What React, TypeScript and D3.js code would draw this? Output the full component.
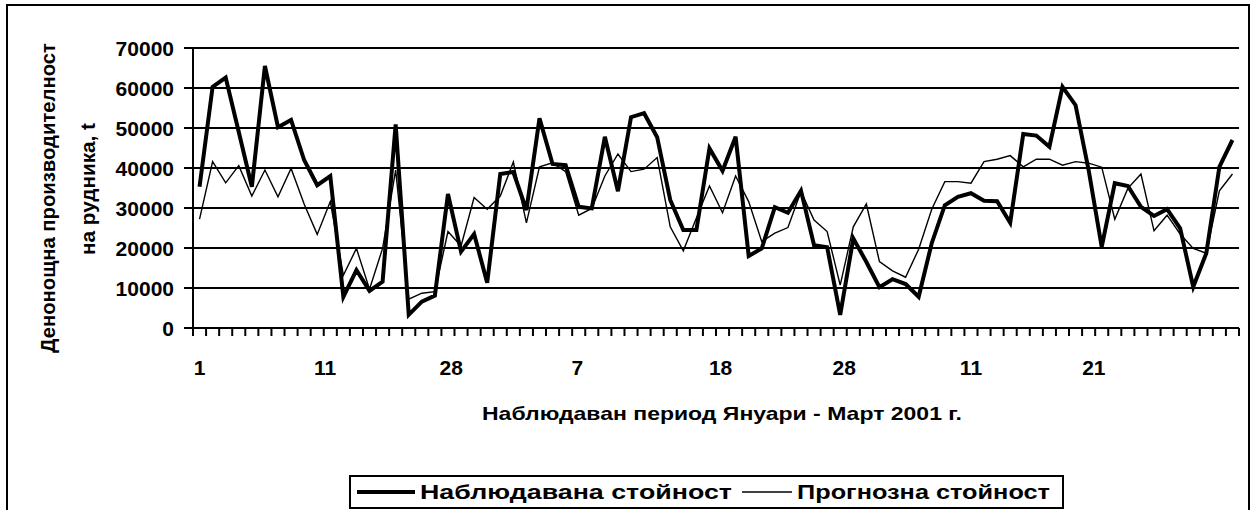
import React from 'react';
import * as d3 from 'd3';

const observed = [
  35300, 60300, 62600, 49000, 35300, 65500, 50200, 52000, 42000, 35700,
  38000, 7800, 14500, 9300, 11600, 50900, 3300, 6600, 8100, 33500,
  19100, 23500, 11300, 38500, 39000, 29500, 52400, 41000, 40700, 30300,
  29900, 47800, 34200, 52700, 53700, 47700, 32000, 24500, 24500, 44900,
  39300, 47800, 18000, 19900, 30200, 28800, 34300, 20700, 20200, 3300,
  22400, 16500, 10200, 12200, 11000, 7800, 21200, 30700, 32800, 33700,
  31800, 31700, 26300, 48500, 48100, 45300, 60300, 55700, 39500, 20300,
  36200, 35500, 30300, 28000, 29700, 24900, 10300, 18700, 40300, 47000,
];

const forecast = [
  27200, 41600, 36300, 40600, 33000, 39500, 32800, 39900, 31000, 23400,
  31600, 13200, 19900, 9700, 19900, 39500, 7200, 8700, 9100, 24100,
  20500, 32600, 29700, 33000, 41500, 26300, 40300, 41300, 39100, 28200,
  29900, 38000, 43500, 39100, 39700, 42600, 25300, 19300, 27500, 35500,
  28800, 38000, 31600, 21600, 23700, 25100, 34100, 27000, 24100, 10700,
  25300, 31000, 16600, 14300, 12700, 19700, 29700, 36600, 36600, 36200,
  41600, 42200, 43100, 40300, 42200, 42200, 40700, 41600, 41200, 40200,
  27200, 34900, 38500, 24300, 28200, 23500, 19900, 18700, 34300, 38500,
];

const xTickLabels = ['1', '11', '28', '7', '18', '28', '11', '21'];
const xTickIndex = [0, 9.6, 19.25, 28.9, 39.85, 49.3, 59, 68.4];
const yTicks = [0, 10000, 20000, 30000, 40000, 50000, 60000, 70000];

const yTitle1 = 'Денонощна производителност';
const yTitle2 = 'на рудника, t';
const xTitle = 'Наблюдаван период Януари - Март 2001 г.';
const legendLabels = ['Наблюдавана стойност', 'Прогнозна стойност'];

const FONT = '"Liberation Sans", Arial, sans-serif';

export default function App() {
  const W = 1257;
  const H = 510;
  const left = 193;
  const right = 1239;
  const top = 48;
  const bottom = 328;
  const N = observed.length;

  const x = d3.scaleLinear().domain([0, N]).range([left, right]);
  const y = d3.scaleLinear().domain([0, 70000]).range([bottom, top]);

  const line = d3
    .line<number>()
    .x((_, i) => x(i + 0.5))
    .y((d) => y(d));

  const boundaries = d3.range(0, N + 1);

  return (
    <svg
      width={W}
      height={H}
      style={{ position: 'absolute', left: 0, top: 0, background: '#fff' }}
      fontFamily={FONT}
    >
      <rect x={0} y={0} width={W} height={H} fill="#fff" />
      <rect x={7} y={5} width={1242} height={520} fill="none" stroke="#000" strokeWidth={2} />

      {yTicks.filter((t) => t > 0).map((t) => (
        <line key={t} x1={left} x2={right} y1={y(t)} y2={y(t)} stroke="#000" strokeWidth={2} />
      ))}

      <line x1={left} x2={left} y1={top} y2={bottom} stroke="#000" strokeWidth={2} />
      {yTicks.map((t) => (
        <g key={'yt' + t}>
          <line x1={left - 9} x2={left} y1={y(t)} y2={y(t)} stroke="#000" strokeWidth={2} />
          <text x={174} y={y(t)} dy="0.36em" textAnchor="end" fontSize={21} fontWeight="bold">
            {t}
          </text>
        </g>
      ))}

      <line x1={left} x2={right} y1={bottom} y2={bottom} stroke="#000" strokeWidth={2} />
      {boundaries.map((b) => (
        <line key={'xt' + b} x1={x(b)} x2={x(b)} y1={bottom} y2={bottom + 8} stroke="#000" strokeWidth={2} />
      ))}
      {xTickLabels.map((l, i) => (
        <text key={'xl' + i} x={x(xTickIndex[i] + 0.5)} y={375} textAnchor="middle" fontSize={21} fontWeight="bold">
          {l}
        </text>
      ))}

      <path d={line(forecast) || ''} fill="none" stroke="#000" strokeWidth={1.4} strokeLinejoin="miter" />
      <path d={line(observed) || ''} fill="none" stroke="#000" strokeWidth={4} strokeLinejoin="miter" />

      <text
        transform={`translate(55,198) rotate(-90)`}
        textAnchor="middle"
        fontSize={20}
        fontWeight="bold"
        textLength={310}
        lengthAdjust="spacingAndGlyphs"
      >
        {yTitle1}
      </text>
      <text
        transform={`translate(95,189) rotate(-90)`}
        textAnchor="middle"
        fontSize={20}
        fontWeight="bold"
        textLength={132}
        lengthAdjust="spacingAndGlyphs"
      >
        {yTitle2}
      </text>

      <text
        x={722}
        y={420}
        textAnchor="middle"
        fontSize={19}
        fontWeight="bold"
        textLength={480}
        lengthAdjust="spacingAndGlyphs"
      >
        {xTitle}
      </text>

      <rect x={350} y={476} width={713} height={32} fill="#fff" stroke="#000" strokeWidth={2} />
      <line x1={357} x2={415} y1={492} y2={492} stroke="#000" strokeWidth={4} />
      <text x={420} y={499} fontSize={20} fontWeight="bold" textLength={312} lengthAdjust="spacingAndGlyphs">
        {legendLabels[0]}
      </text>
      <line x1={742} x2={792} y1={492} y2={492} stroke="#000" strokeWidth={1.4} />
      <text x={797} y={499} fontSize={20} fontWeight="bold" textLength={253} lengthAdjust="spacingAndGlyphs">
        {legendLabels[1]}
      </text>
    </svg>
  );
}
